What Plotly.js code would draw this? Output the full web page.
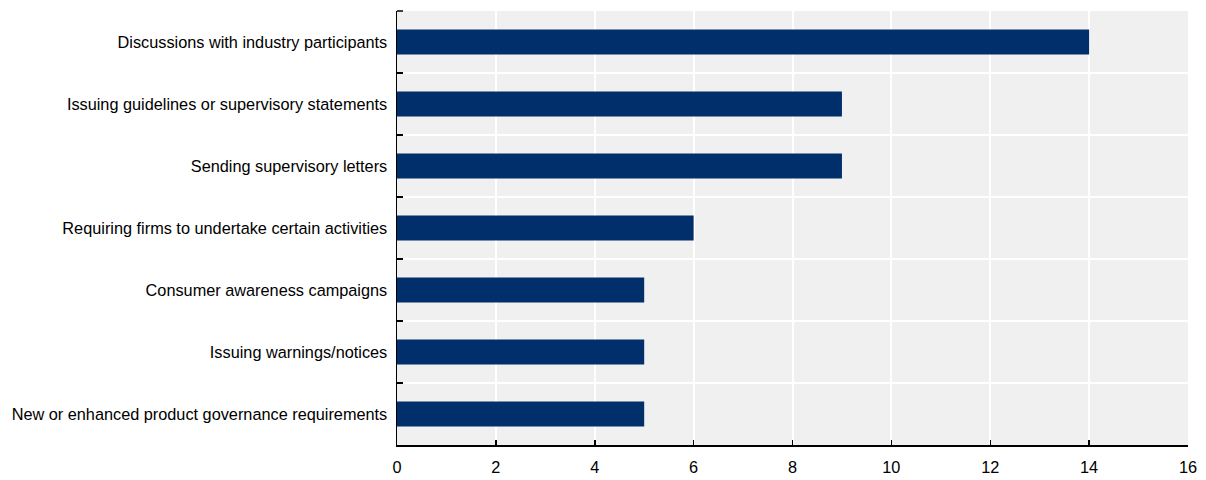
<!DOCTYPE html>
<html>
<head>
<meta charset="utf-8">
<script src="https://cdn.plot.ly/plotly-3.0.1.min.js"></script>
<style>html,body{margin:0;padding:0;background:#fff;}#chart{width:1206px;height:480px;}</style>
</head>
<body>
<div id="chart"></div>
<script>
const categories = [
  "Discussions with industry participants",
  "Issuing guidelines or supervisory statements",
  "Sending supervisory letters",
  "Requiring firms to undertake certain activities",
  "Consumer awareness campaigns",
  "Issuing warnings/notices",
  "New or enhanced product governance requirements"
];
const values = [14, 9, 9, 6, 5, 5, 5];
const xTicks = [0, 2, 4, 6, 8, 10, 12, 14, 16];

const trace = {
  type: 'bar',
  orientation: 'h',
  y: categories,
  x: values,
  width: 0.4,
  marker: {color: '#002f6c'},
  hoverinfo: 'x+y'
};

const layout = {
  width: 1206,
  height: 480,
  margin: {l: 397, r: 18, t: 11, b: 35, pad: 0},
  paper_bgcolor: '#ffffff',
  plot_bgcolor: '#f0f0f0',
  showlegend: false,
  font: {family: '"Liberation Sans", Arial, sans-serif', size: 16.3, color: '#000'},
  xaxis: {
    range: [0, 16],
    tickvals: xTicks,
    ticktext: xTicks.map(String),
    showgrid: true,
    gridcolor: '#ffffff',
    gridwidth: 2,
    zeroline: false,
    showline: true,
    linecolor: '#000',
    linewidth: 1.5,
    ticks: 'inside',
    ticklen: 5,
    tickwidth: 1.5,
    tickcolor: '#000',
    ticklabelstandoff: 7,
    tickfont: {size: 16.3},
    fixedrange: true
  },
  yaxis: {
    type: 'category',
    autorange: 'reversed',
    tickson: 'boundaries',
    showgrid: true,
    gridcolor: '#ffffff',
    gridwidth: 2,
    showline: true,
    linecolor: '#000',
    linewidth: 1.5,
    ticks: 'inside',
    ticklen: 6,
    tickwidth: 1.5,
    tickcolor: '#000',
    ticklabelstandoff: 5,
    tickfont: {size: 16.3},
    fixedrange: true
  },
  shapes: [{
    type: 'line', xref: 'paper', yref: 'paper',
    xsizemode: 'pixel', xanchor: 0, x0: 0, x1: 6, y0: 1, y1: 1,
    line: {color: '#000', width: 1.5}
  }]
};

Plotly.newPlot('chart', [trace], layout, {displayModeBar: false, staticPlot: true});
</script>
</body>
</html>
